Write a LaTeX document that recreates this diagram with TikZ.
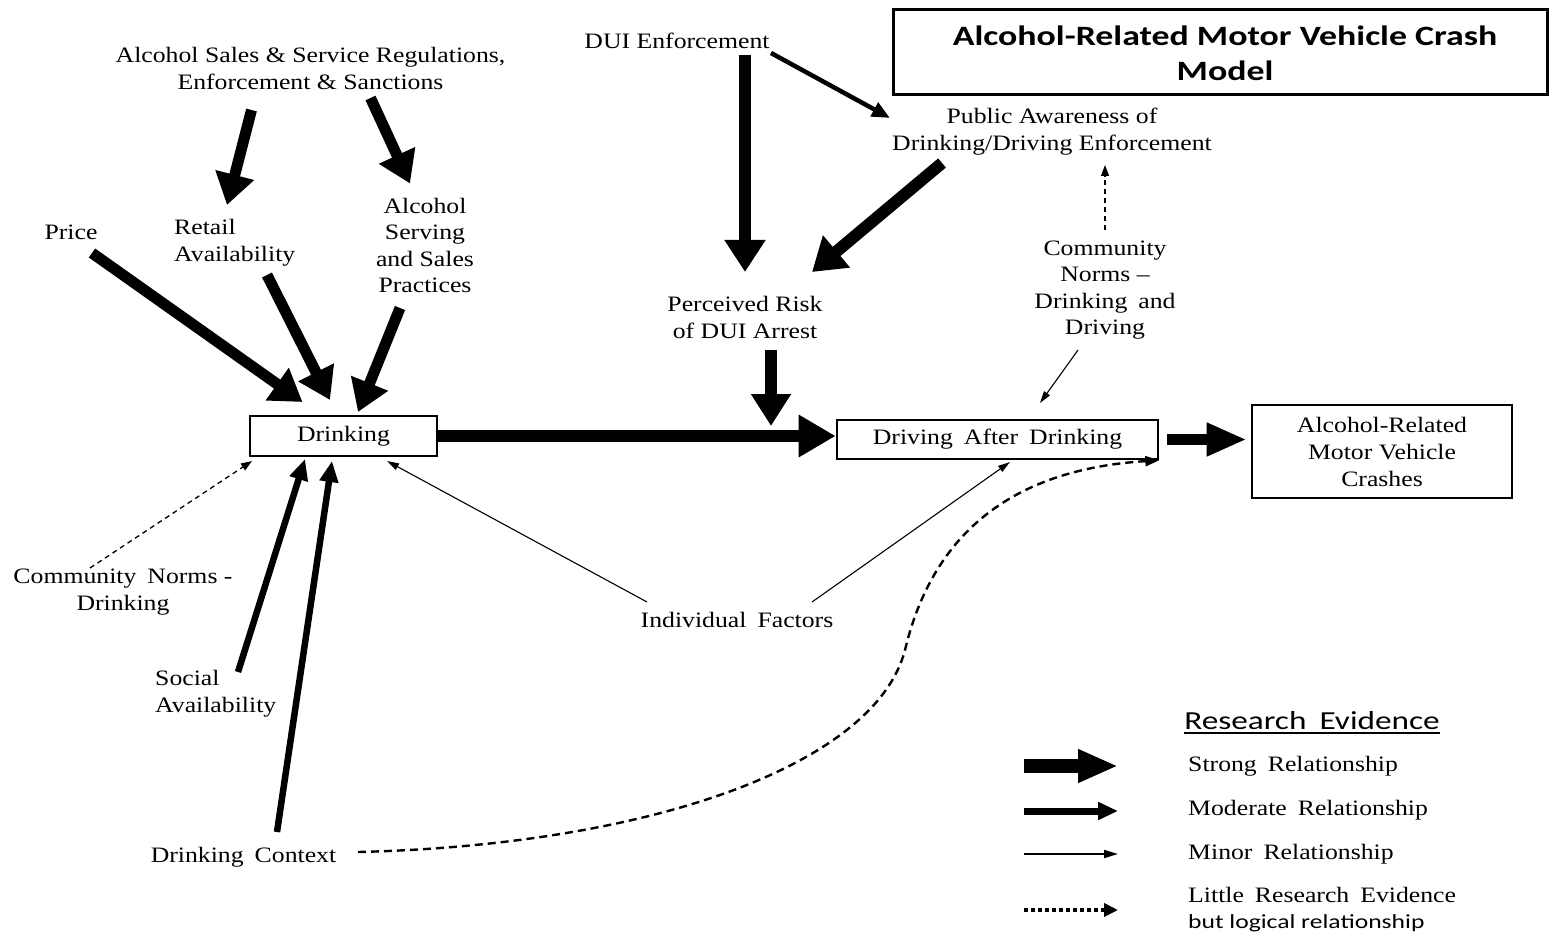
\documentclass[tikz,border=0pt]{standalone}
\usepackage{fontspec}
\setmainfont{Liberation Serif}[FakeStretch=1.17]
\newfontfamily\sansf{Carlito}[FakeStretch=1.28]
\usetikzlibrary{arrows.meta,calc}
\begin{document}
\begin{tikzpicture}[x=1pt,y=-1pt,
  txt/.style={font=\fontsize{22}{27}\selectfont, inner sep=0pt, align=center},
  boxn/.style={draw, line width=2.6pt, inner sep=0pt, font=\fontsize{22}{27}\selectfont, align=center},
  strong/.style={line width=11pt, -{Triangle[length=31pt,width=38pt]}},
  moder/.style={line width=6.5pt, -{Triangle[length=21pt,width=18pt]}},
  minor/.style={line width=1.1pt, -{Triangle[length=12pt,width=7pt]}},
  dashy/.style={line width=1.3pt, dash pattern=on 5pt off 4pt, -{Triangle[length=11pt,width=8pt]}},
  curvy/.style={line width=2.4pt, dash pattern=on 8pt off 5pt, -{Triangle[length=14pt,width=10pt]}},
  legtxt/.style={font=\fontsize{22}{26}\selectfont, inner sep=0pt, anchor=west, align=left}]
\useasboundingbox (0,0) rectangle (1549,933);

% title
\node[draw, line width=3pt, minimum width=654pt, minimum height=85pt, inner sep=0pt] (titlebox) at (1220,52.5) {};
\node[inner sep=0pt, align=center, font=\sansf\bfseries\fontsize{28}{35}\selectfont] (title) at (1225,53) {Alcohol-Related Motor Vehicle Crash\\Model};

% text nodes
\node[txt] (sales) at (310.5,68) {Alcohol Sales \& Service Regulations,\\Enforcement \& Sanctions};
\node[txt] (dui) at (677,41) {DUI Enforcement};
\node[txt] (pub) at (1052,131.5) {Public Awareness of\\Drinking/Driving Enforcement};
\node[txt] (price) at (71,232) {Price};
\node[txt, anchor=west, align=left] (retail) at (174,242.5) {Retail\\Availability};
\node[txt, font=\fontsize{22}{26.5}\selectfont] (serving) at (425,245.5) {Alcohol\\Serving\\and Sales\\Practices};
\node[txt] (risk) at (745,317.5) {Perceived Risk\\of DUI Arrest};
\node[txt, font=\fontsize{22}{26.5}\selectfont] (cnorm) at (1105,290) {Community\\Norms --\\Drinking\enspace and\\Driving};
\node[txt] (cnd) at (123,592) {Community\enspace Norms -\\Drinking};
\node[txt, anchor=west, align=left] (social) at (155,694) {Social\\Availability};
\node[txt] (context) at (243.5,857) {Drinking\enspace Context};
\node[txt] (indiv) at (737,620) {Individual\enspace Factors};

% boxes
\node[boxn, minimum width=187pt, minimum height=40pt] (drink) at (343.5,436) {\raisebox{-2pt}{Drinking}};
\node[boxn, minimum width=321pt, minimum height=39pt] (drive) at (997.5,439.5) {\raisebox{-2pt}{Driving\enspace After\enspace Drinking}};
\node[boxn, minimum width=260pt, minimum height=93pt] (crash) at (1382,451.5) {Alcohol-Related\\Motor Vehicle\\Crashes};

% strong arrows
\draw[strong] ($(sales)+(-59,42)$) -- ($(retail.west)+(53,-37.5)$);
\draw[strong] ($(sales)+(60,30)$) -- ($(serving)+(-15,-62)$);
\draw[strong] ($(price)+(21,21)$) -- ($(drink)+(-41,-34)$);
\draw[strong] ($(retail.west)+(93,32.5)$) -- ($(drink)+(-13.5,-36)$);
\draw[strong] ($(serving)+(-25,62.5)$) -- ($(drink)+(14.5,-24)$);
\draw[strong, line width=12pt, -{Triangle[length=32pt,width=39pt]}] ($(dui)+(68,14)$) -- ($(risk)+(0,-45.5)$);
\draw[strong, line width=12pt, -{Triangle[length=32pt,width=40pt]}] ($(pub)+(-110,31.5)$) -- ($(risk)+(67,-45.5)$);
\draw[strong, line width=12pt, -{Triangle[length=32pt,width=38pt]}] ($(risk)+(26,32.5)$) -- ($(risk)+(26,108.5)$);
\draw[strong, line width=12pt, -{Triangle[length=37pt,width=40pt]}] (drink.east) -- (drink.east -| drive.west);
\draw[strong, line width=11pt, -{Triangle[length=40pt,width=31pt]}] ($(drive.east)+(8,0)$) -- ($(drive.east -| crash.west)+(-4,0)$);

% moderate arrows
\draw[moder, line width=4.5pt, -{Triangle[length=18pt,width=15pt]}] ($(dui)+(94,12)$) -- ($(pub)+(-162,-13.5)$);
\draw[moder] ($(social.west)+(83,-22)$) -- ($(drink)+(-38.5,23)$);
\draw[moder] ($(context)+(33.5,-25)$) -- ($(drink)+(-11.5,25)$);

% minor arrows
\draw[minor] ($(indiv)+(-90,-18)$) -- ($(drink)+(43.5,25)$);
\draw[minor] ($(indiv)+(75,-18)$) -- ($(drive)+(12.5,22.5)$);
\draw[minor] ($(cnorm)+(-27,60)$) -- ($(cnorm)+(-65,113)$);

% dashed
\draw[dashy] ($(cnorm)+(0,-60)$) -- ($(pub)+(53,33.5)$);
\draw[dashy] ($(cnd)+(-33,-24)$) -- ($(drink)+(-91.5,25)$);
\draw[curvy] ($(context)+(114.5,-5)$) .. controls (650,845) and (875,765) .. (905,650)
   .. controls (930,545) and (1000,470) .. (drive.south east);

% legend
\node[inner sep=0pt, anchor=base, font=\sansf\fontsize{26}{30}\selectfont] (rev) at (1312,729) {Research\enspace Evidence};
\draw[line width=1.3pt] ($(rev.base west)+(0,4)$) -- ($(rev.base east)+(0,4)$);
\coordinate (l1a) at (1024,766); \coordinate (l1b) at (1118,766);
\coordinate (l2a) at (1024,811); \coordinate (l2b) at (1118,811);
\coordinate (l3a) at (1024,854); \coordinate (l3b) at (1118,854);
\coordinate (l4a) at (1024,910); \coordinate (l4b) at (1118,910);
\draw[line width=14pt, -{Triangle[length=40pt,width=31pt]}] (l1a) -- (l1b);
\draw[line width=7pt, -{Triangle[length=20pt,width=17pt]}] (l2a) -- (l2b);
\draw[line width=2pt, -{Triangle[length=14pt,width=8pt]}] (l3a) -- (l3b);
\draw[line width=3.5pt, dash pattern=on 4pt off 3pt, -{Triangle[length=14pt,width=13pt]}] (l4a) -- (l4b);
\node[legtxt] (lg1) at (1188,766) {Strong\enspace Relationship};
\node[legtxt] (lg2) at (1188,810) {Moderate\enspace Relationship};
\node[legtxt] (lg3) at (1188,854) {Minor\enspace Relationship};
\node[legtxt] (lg4) at (1188,910) {Little\enspace Research\enspace Evidence\\{\sansf\fontsize{20}{24}\selectfont but logical relationship}};
\end{tikzpicture}
\end{document}
